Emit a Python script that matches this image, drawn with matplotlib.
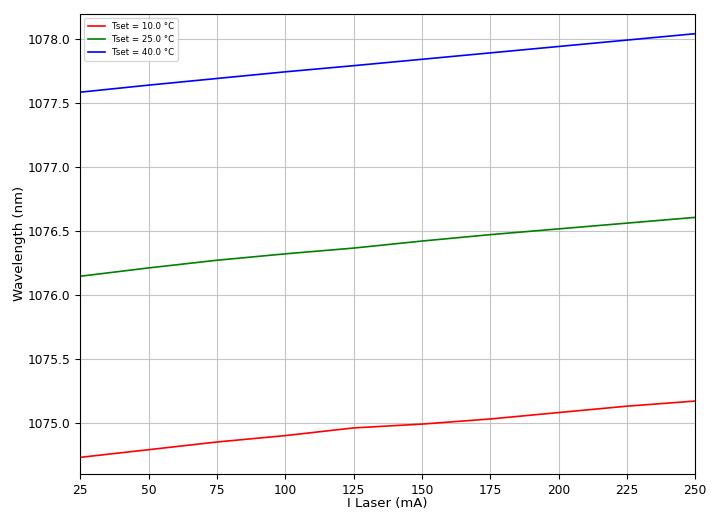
import numpy as np
import matplotlib
matplotlib.use("Agg")
import matplotlib.pyplot as plt

corriente = [25, 50, 75, 100, 125, 150, 175, 200, 225, 250]
t_set = [10.0, 25.0, 40.0]
colores = ["red", "green", "blue"]

lambda_10 = [1074.73, 1074.79, 1074.85, 1074.90, 1074.96, 1074.99, 1075.03, 1075.08, 1075.13, 1075.17]
lambda_25 = [1076.145, 1076.21, 1076.27, 1076.32, 1076.365, 1076.42, 1076.47, 1076.515, 1076.56, 1076.605]
lambda_40 = [1077.583, 1077.638, 1077.69, 1077.742, 1077.79, 1077.84, 1077.89, 1077.94, 1077.99, 1078.04]
datos = [lambda_10, lambda_25, lambda_40]

plt.rcParams["font.size"] = 8.8

fig, ax = plt.subplots(figsize=(7.16, 5.13), dpi=100)
fig.subplots_adjust(left=0.112, right=0.971, bottom=0.076, top=0.973)

for t, y, c in zip(t_set, datos, colores):
    ax.plot(corriente, y, color=c, linewidth=1.2, label=f"Tset = {t:.1f} °C")

ax.set_xlim(25, 250)
ax.set_ylim(1074.6, 1078.195)
ax.set_xticks(np.arange(25, 251, 25))
ax.set_yticks(np.arange(1075.0, 1078.01, 0.5))
ax.yaxis.set_major_formatter(matplotlib.ticker.FormatStrFormatter("%.1f"))
ax.set_xlabel("I Laser (mA)", labelpad=0, fontsize=9.5)
ax.set_ylabel("Wavelength (nm)", labelpad=1, fontsize=9.5)
ax.grid(True, color="#c4c4c4", linewidth=0.8)
ax.legend(loc="upper left", fontsize=6.2)

fig.savefig("out.png", dpi=100)
